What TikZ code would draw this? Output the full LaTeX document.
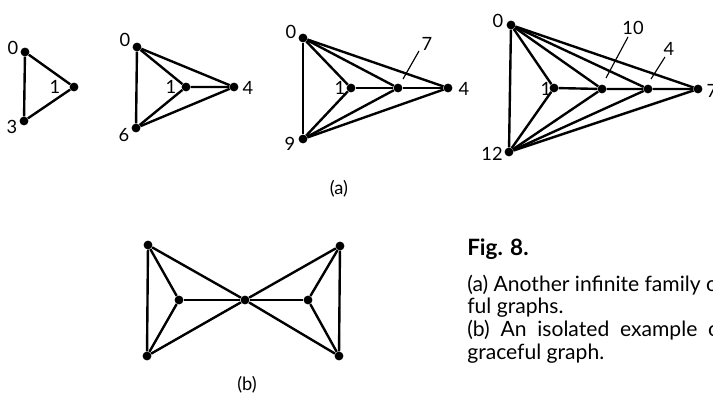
\documentclass[tikz,border=0pt]{standalone}
\usepackage{fontspec}
\setmainfont{Lato}

\begin{document}
\begin{tikzpicture}[
    x=0.025cm, y=-0.025cm,
    vertex/.style={circle, fill, inner sep=0pt, minimum size=6.3pt},
    edge/.style={line width=1.7pt},
    leader/.style={line width=0.8pt},
    num/.style={font=\fontsize{13}{15}\selectfont, inner sep=0pt},
    capline/.style={anchor=base west, inner sep=0pt, font=\fontsize{15}{18}\selectfont}
  ]
  \useasboundingbox (0,0) rectangle (713,393);
  \clip (0,0) rectangle (713,393);

  % (a) first member: triangle
  \node[vertex] (a0) at (25,52) {};
  \node[vertex] (a1) at (74,87) {};
  \node[vertex] (a3) at (24,121) {};
  \node[num] (a0l) at (13,48) {0};
  \node[num] (a1l) at (55,87) {1};
  \node[num] (a3l) at (12,127) {3};

  \draw[edge] (a0) -- (a1) -- (a3) -- (a0);

  % (a) second member
  \node[vertex] (b0) at (137,47) {};
  \node[vertex] (b1) at (186,87) {};
  \node[vertex] (b4) at (234,87) {};
  \node[vertex] (b6) at (136,128) {};
  \node[num] (b0l) at (125,40) {0};
  \node[num] (b1l) at (171,87) {1};
  \node[num] (b4l) at (248,88) {4};
  \node[num] (b6l) at (124,135) {6};

  \draw[edge] (b0) -- (b6);
  \draw[edge] (b0) -- (b1) -- (b4);
  \draw[edge] (b0) -- (b4);
  \draw[edge] (b6) -- (b1);
  \draw[edge] (b6) -- (b4);

  % (a) third member
  \node[vertex] (c0) at (303,38) {};
  \node[vertex] (c1) at (351,88) {};
  \node[vertex] (c7) at (398,88) {};
  \node[vertex] (c4) at (448,88) {};
  \node[vertex] (c9) at (303,139) {};
  \node[num] (c0l) at (291,32) {0};
  \node[num] (c1l) at (340,88) {1};
  \node[num] (c7l) at (427,44) {7};
  \node[num] (c4l) at (464,89) {4};
  \node[num] (c9l) at (290,144) {9};
  \coordinate (c7a) at (419,51);
  \coordinate (c7b) at (403,79);

  \draw[edge] (c0) -- (c9);
  \draw[edge] (c0) -- (c1);
  \draw[edge] (c0) -- (c7);
  \draw[edge] (c0) -- (c4);
  \draw[edge] (c1) -- (c7) -- (c4);
  \draw[edge] (c9) -- (c1);
  \draw[edge] (c9) -- (c7);
  \draw[edge] (c9) -- (c4);
  \draw[leader] (c7a) -- (c7b);

  % (a) fourth member
  \node[vertex] (d0) at (511,25) {};
  \node[vertex] (d1) at (554,88) {};
  \node[vertex] (d10) at (602,89) {};
  \node[vertex] (d4) at (648,89) {};
  \node[vertex] (d7) at (698,89) {};
  \node[vertex] (d12) at (509,152) {};
  \node[num] (d0l) at (498,21) {0};
  \node[num] (d1l) at (546,89) {1};
  \node[num] (d10l) at (633,28) {10};
  \node[num] (d4l) at (669,49) {4};
  \node[num] (d7l) at (712,91) {7};
  \node[num] (d12l) at (492,154) {12};
  \coordinate (d10a) at (628,37);
  \coordinate (d10b) at (606,78);
  \coordinate (d4a) at (665,57);
  \coordinate (d4b) at (651,79);

  \draw[edge] (d0) -- (d12);
  \draw[edge] (d0) -- (d1);
  \draw[edge] (d0) -- (d10);
  \draw[edge] (d0) -- (d4);
  \draw[edge] (d0) -- (d7);
  \draw[edge] (d1) -- (d10) -- (d4) -- (d7);
  \draw[edge] (d12) -- (d1);
  \draw[edge] (d12) -- (d10);
  \draw[edge] (d12) -- (d4);
  \draw[edge] (d12) -- (d7);
  \draw[leader] (d10a) -- (d10b);
  \draw[leader] (d4a) -- (d4b);

  \node[num] (alabel) at (339,189) {(a)};

  % (b) the bow tie
  \node[vertex] (tl) at (148,245) {};
  \node[vertex] (bl) at (147,356) {};
  \node[vertex] (li) at (179,300) {};
  \node[vertex] (cc) at (245,300) {};
  \node[vertex] (ri) at (308,300) {};
  \node[vertex] (tr) at (340,246) {};
  \node[vertex] (br) at (339,356) {};

  \draw[edge] (tl) -- (bl);
  \draw[edge] (tl) -- (li) -- (bl);
  \draw[edge] (tl) -- (cc) -- (bl);
  \draw[edge] (li) -- (cc) -- (ri);
  \draw[edge] (tr) -- (cc) -- (br);
  \draw[edge] (tr) -- (ri) -- (br);
  \draw[edge] (tr) -- (br);

  \node[num] (blabel) at (247,385) {(b)};

  % caption
  \node[capline, font=\fontsize{16}{18}\bfseries] (figno) at (467,256) {Fig. 8.};
  \node[capline] (cap1) at (467,292) {(a) Another infinite family of};
  \node[capline] (cap2) at (467,314) {ful graphs.};
  \node[capline] (cap3) at (467,337) {(b)\ \ An\ \ isolated\ \ example\ \ of};
  \node[capline] (cap4) at (467,360) {graceful graph.};
\end{tikzpicture}
\end{document}
